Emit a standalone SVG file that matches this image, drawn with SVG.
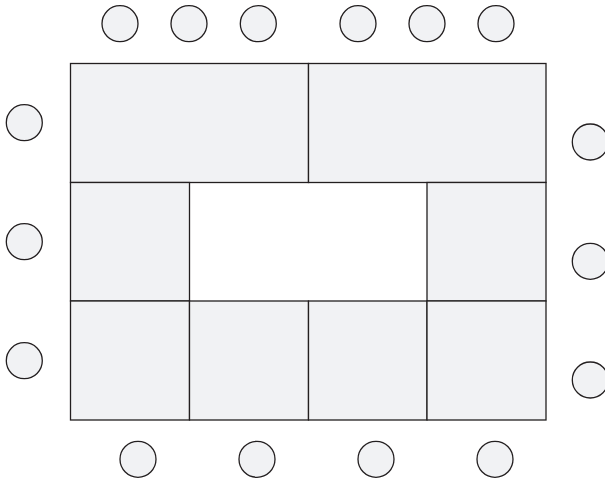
<svg xmlns="http://www.w3.org/2000/svg" width="605" height="480" viewBox="0 0 605 480">
<style>
.t{fill:#f1f2f4;stroke:#231f20;stroke-width:1.3}
.c{fill:#f1f2f4;stroke:#231f20;stroke-width:1.3}
</style>
<rect width="605" height="480" fill="#fff"/>
<g id="tables">
<rect id="t1" class="t" x="70.5" y="63.5" width="238" height="119"/>
<rect id="t2" class="t" x="308.5" y="63.5" width="237.5" height="119"/>
<rect id="t3" class="t" x="70.5" y="182.5" width="119" height="118.5"/>
<rect id="t4" class="t" x="427" y="182.5" width="119" height="118.5"/>
<rect id="t5" class="t" x="70.5" y="301" width="119" height="119"/>
<rect id="t6" class="t" x="189.5" y="301" width="119" height="119"/>
<rect id="t7" class="t" x="308.5" y="301" width="118.5" height="119"/>
<rect id="t8" class="t" x="427" y="301" width="119" height="119"/>
</g>
<g id="chairs">
<circle class="c" cx="120" cy="23.7" r="18"/>
<circle class="c" cx="189" cy="23.7" r="18"/>
<circle class="c" cx="258.3" cy="23.7" r="18"/>
<circle class="c" cx="358" cy="23.7" r="18"/>
<circle class="c" cx="427" cy="23.7" r="18"/>
<circle class="c" cx="496" cy="23.7" r="18"/>
<circle class="c" cx="24.3" cy="122.7" r="18"/>
<circle class="c" cx="24.3" cy="241.7" r="18"/>
<circle class="c" cx="24.3" cy="360.7" r="18"/>
<circle class="c" cx="590.3" cy="142" r="18"/>
<circle class="c" cx="590.3" cy="261.3" r="18"/>
<circle class="c" cx="590.3" cy="380" r="18"/>
<circle class="c" cx="138" cy="459.3" r="18"/>
<circle class="c" cx="257" cy="459.3" r="18"/>
<circle class="c" cx="376" cy="459.3" r="18"/>
<circle class="c" cx="495" cy="459.3" r="18"/>
</g>
</svg>
